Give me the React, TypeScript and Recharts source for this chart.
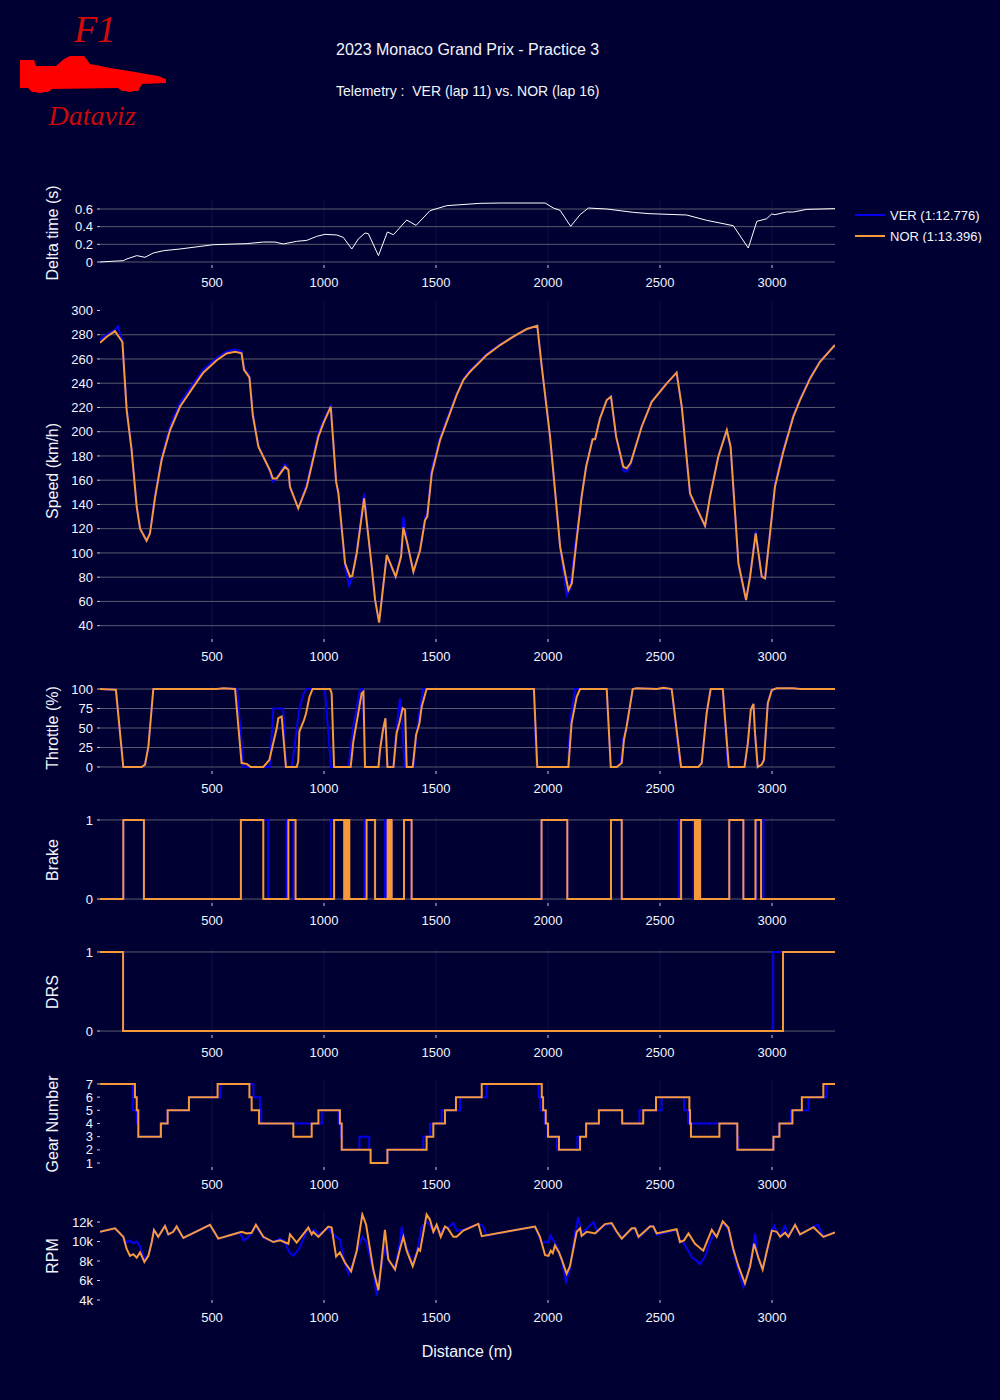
import { CartesianGrid, Line, LineChart, XAxis, YAxis } from "recharts";
import type { ReactNode } from "react";

const BG = "#000033";
const TEXT = "#f2f5fa";
const GRID = "#5a5a6c";
const FAINT = "#10104a";
const VER_COLOR = "#0600ef";
const NOR_COLOR = "#f5993a";
const FONT = '"Liberation Sans", Arial, sans-serif';

type Pt = [number, number];

// distance axis (m)
const X_MAX = 3281;
const X_TICKS = [500, 1000, 1500, 2000, 2500, 3000];

// delta time VER -> NOR (s)
const DELTA: Pt[] = [
  [0, 0], [104, 0.015], [119, 0.034], [164, 0.072], [201, 0.053], [238, 0.102], [283, 0.128],
  [357, 0.147], [506, 0.196], [655, 0.208], [729, 0.226], [781, 0.226], [818, 0.204], [878, 0.234],
  [923, 0.245], [967, 0.29], [1004, 0.313], [1057, 0.306], [1086, 0.279], [1124, 0.147], [1153, 0.26],
  [1183, 0.328], [1198, 0.321], [1243, 0.072], [1283, 0.34], [1310, 0.309], [1369, 0.475], [1411, 0.415],
  [1473, 0.581], [1548, 0.638], [1696, 0.664], [1786, 0.668], [1987, 0.668], [2024, 0.611], [2054, 0.585],
  [2101, 0.404], [2143, 0.536], [2180, 0.611], [2262, 0.6], [2381, 0.562], [2455, 0.547], [2619, 0.532],
  [2708, 0.472], [2827, 0.411], [2894, 0.158], [2932, 0.46], [2976, 0.49], [2998, 0.543], [3013, 0.536],
  [3065, 0.566], [3095, 0.566], [3155, 0.596], [3281, 0.604],
];

// speed (km/h)
const VER_SPEED: Pt[] = [
  [0, 276], [30, 280], [67, 284], [80, 287], [100, 275], [119, 220], [141, 186], [164, 138], [179, 120],
  [208, 110], [223, 117], [246, 148], [275, 179], [312, 204], [357, 224], [417, 240], [461, 251],
  [521, 261], [565, 266], [603, 268], [632, 266], [643, 253], [667, 246], [682, 216], [707, 189],
  [759, 167], [771, 159], [789, 162], [826, 173], [841, 169], [848, 155], [885, 137], [923, 157],
  [975, 199], [997, 209], [1030, 221], [1054, 159], [1064, 148], [1094, 88], [1112, 73], [1126, 80],
  [1146, 102], [1179, 149], [1213, 88], [1228, 61], [1246, 43], [1280, 98], [1320, 80], [1344, 98],
  [1354, 130], [1372, 108], [1399, 84], [1429, 103], [1451, 130], [1461, 133], [1481, 170], [1518, 195],
  [1562, 217], [1592, 231], [1622, 243], [1652, 251], [1666, 253], [1726, 264], [1786, 272], [1845, 278],
  [1905, 284.7], [1952, 287.4], [1972, 253.6], [2009, 195.9], [2031, 151.9], [2054, 105], [2083, 65],
  [2098, 70], [2120, 105], [2150, 147], [2170, 172], [2199, 194], [2210, 194], [2232, 211], [2262, 226],
  [2281, 229], [2304, 196], [2336, 168], [2351, 167], [2369, 173], [2418, 204], [2463, 225], [2530, 240],
  [2574, 248.7], [2597, 220], [2634, 148], [2664, 136], [2701, 122], [2723, 146], [2760, 180], [2798, 201],
  [2815, 187], [2835, 132], [2850, 90], [2884, 61], [2902, 82], [2927, 118], [2954, 80], [2969, 79],
  [2991, 117], [3013, 157], [3048, 184], [3095, 214], [3125, 227], [3170, 245], [3214, 258], [3281, 271.5],
];
const NOR_SPEED: Pt[] = [
  [0, 273.4], [30, 278.4], [67, 283], [100, 274], [119, 218], [141, 185], [164, 138], [179, 120],
  [208, 110], [223, 116], [246, 146], [275, 176.6], [312, 201], [357, 220.6], [417, 237], [461, 248.7],
  [521, 259], [565, 264.6], [603, 266], [632, 264.6], [643, 251], [667, 244.8], [682, 213.7], [707, 187.6],
  [759, 168], [771, 161.5], [789, 161.5], [826, 171], [841, 168.4], [848, 154.6], [885, 136.8], [923, 154.6],
  [975, 196], [997, 206.9], [1030, 220.6], [1054, 158.8], [1064, 149.7], [1094, 91.4], [1116, 80.4],
  [1126, 81], [1146, 99.7], [1179, 145], [1213, 88.6], [1228, 61.2], [1246, 42.5], [1280, 98.3],
  [1320, 80.4], [1344, 97], [1354, 121], [1372, 107.9], [1399, 84.5], [1429, 102.4], [1451, 127.1],
  [1461, 130], [1481, 165.6], [1518, 193.1], [1562, 215.1], [1592, 230.2], [1622, 242.6], [1652, 249.5],
  [1666, 252.2], [1726, 263.2], [1786, 271.5], [1845, 278.4], [1905, 284.7], [1952, 287.4], [1972, 253.6],
  [2009, 195.9], [2031, 151.9], [2054, 105.2], [2076, 83.2], [2091, 69.4], [2106, 74.9], [2125, 106.5],
  [2150, 146.4], [2170, 171.1], [2199, 193.7], [2210, 193.7], [2232, 211], [2262, 226.1], [2281, 228.9],
  [2304, 195.9], [2336, 171.1], [2351, 169.8], [2369, 174.4], [2418, 204.1], [2463, 224.7], [2530, 239.9],
  [2574, 248.7], [2597, 220.6], [2634, 149.1], [2664, 136.8], [2701, 122.2], [2723, 146.4], [2760, 179.4],
  [2798, 201.4], [2815, 187.6], [2835, 132.6], [2850, 91.4], [2884, 61.2], [2902, 80.4], [2927, 116.2],
  [2954, 80.4], [2969, 79], [2991, 116.2], [3013, 154.6], [3048, 182.1], [3095, 212.4], [3125, 226.1],
  [3170, 244], [3214, 257.7], [3281, 271.5],
];

// throttle (%)
const VER_THROTTLE: Pt[] = [
  [0, 100], [71, 99], [104, 0], [186, 0], [201, 3], [216, 26], [238, 100], [521, 100], [551, 101],
  [612, 100], [640, 0], [758, 0], [774, 75], [818, 75], [830, 0], [856, 0], [870, 30], [890, 75],
  [910, 95], [923, 100], [1004, 100], [1031, 0], [1109, 0], [1130, 50], [1161, 100], [1173, 100],
  [1183, 0], [1243, 0], [1250, 22], [1262, 45], [1274, 62], [1283, 0], [1310, 0], [1322, 45], [1339, 88],
  [1350, 50], [1360, 0], [1399, 0], [1420, 60], [1443, 100], [1937, 100], [1948, 0], [2088, 0],
  [2100, 60], [2121, 100], [2262, 100], [2280, 0], [2307, 0], [2325, 5], [2335, 35], [2351, 52],
  [2378, 100], [2396, 101], [2485, 100], [2515, 101], [2552, 100], [2590, 0], [2671, 0], [2686, 5],
  [2708, 69], [2726, 100], [2780, 100], [2803, 0], [2877, 0], [2892, 30], [2905, 73], [2917, 81],
  [2924, 43], [2936, 0], [2954, 3], [2964, 9], [2981, 82], [2999, 99], [3021, 101], [3095, 101],
  [3125, 100], [3281, 100],
];
const NOR_THROTTLE: Pt[] = [
  [0, 100], [71, 99], [104, 0], [186, 0], [201, 3], [216, 26], [238, 100], [521, 100], [551, 101],
  [603, 100], [632, 5], [655, 4], [673, 0], [729, 0], [756, 9], [789, 50], [796, 62.6], [811, 64.7],
  [830, 0], [878, 0], [885, 7], [890, 45.5], [911, 60.4], [920, 69], [935, 90], [949, 100], [1027, 100],
  [1034, 94.5], [1045, 0], [1119, 0], [1131, 32.8], [1153, 69], [1168, 94.5], [1176, 96.6], [1183, 0],
  [1243, 0], [1250, 22], [1262, 45.5], [1274, 62.6], [1283, 0], [1310, 0], [1324, 43.4], [1336, 56],
  [1351, 75.3], [1362, 73], [1369, 0], [1396, 0], [1411, 41], [1426, 56], [1436, 77.4], [1458, 100],
  [1937, 100], [1952, 0], [2091, 0], [2105, 56], [2128, 90], [2143, 100], [2262, 100], [2280, 0],
  [2307, 0], [2329, 5], [2339, 35], [2351, 52], [2378, 100], [2396, 101], [2485, 100], [2515, 101.7],
  [2552, 100], [2594, 0], [2671, 0], [2686, 5], [2708, 69], [2726, 100], [2780, 100], [2807, 0],
  [2877, 0], [2892, 30.6], [2905, 73], [2917, 81], [2924, 43.4], [2936, 0], [2954, 3], [2964, 9.4],
  [2981, 81.7], [2999, 98.7], [3021, 101], [3095, 101], [3125, 100], [3281, 100],
];

// brake on/off (value holds until next distance)
const VER_BRAKE: Pt[] = [
  [0, 0], [104, 1], [196, 0], [629, 1], [751, 0], [833, 1], [863, 0], [1031, 1], [1091, 0], [1093, 1],
  [1110, 0], [1180, 1], [1225, 0], [1272, 1], [1280, 0], [1284, 1], [1302, 0], [1357, 1], [1391, 0],
  [1971, 1], [2086, 0], [2281, 1], [2329, 0], [2585, 1], [2650, 0], [2809, 1], [2872, 0], [2930, 1],
  [2962, 0], [3281, 0],
];
const NOR_BRAKE: Pt[] = [
  [0, 0], [104, 1], [196, 0], [629, 1], [729, 0], [841, 1], [873, 0], [1045, 1], [1090, 0], [1093, 1],
  [1100, 0], [1104, 1], [1113, 0], [1190, 1], [1228, 0], [1284, 1], [1290, 0], [1293, 1], [1302, 0],
  [1357, 1], [1391, 0], [1971, 1], [2086, 0], [2281, 1], [2329, 0], [2594, 1], [2656, 0], [2661, 1],
  [2666, 0], [2670, 1], [2679, 0], [2809, 1], [2872, 0], [2926, 1], [2951, 0], [3281, 0],
];

// DRS open/closed
const VER_DRS: Pt[] = [[0, 1], [103, 0], [3005, 1], [3281, 1]];
const NOR_DRS: Pt[] = [[0, 1], [103, 0], [3049, 1], [3281, 1]];

// gear (value holds until next distance)
const VER_GEAR: Pt[] = [
  [0, 7], [146, 5], [164, 4], [171, 3], [268, 4], [302, 5], [397, 6], [536, 7], [685, 6], [714, 5],
  [720, 4], [990, 5], [1065, 4], [1075, 3], [1082, 2], [1158, 3], [1202, 2], [1208, 1], [1283, 2],
  [1443, 3], [1473, 4], [1525, 5], [1607, 6], [1726, 7], [1958, 6], [1965, 5], [1985, 4], [1998, 3],
  [2040, 2], [2131, 3], [2170, 4], [2227, 5], [2331, 4], [2408, 5], [2507, 6], [2607, 5], [2625, 4],
  [2842, 3], [2850, 2], [3006, 3], [3030, 4], [3085, 5], [3163, 6], [3244, 7], [3281, 7],
];
const NOR_GEAR: Pt[] = [
  [0, 7], [156, 6], [164, 5], [171, 3], [272, 4], [302, 5], [397, 6], [525, 7], [667, 6], [677, 5],
  [710, 4], [863, 3], [945, 4], [975, 5], [1071, 4], [1079, 2], [1208, 1], [1283, 2], [1458, 3],
  [1488, 4], [1540, 5], [1589, 6], [1704, 7], [1972, 6], [1978, 5], [1990, 4], [2000, 3], [2049, 2],
  [2143, 3], [2170, 4], [2227, 5], [2331, 4], [2425, 5], [2482, 6], [2631, 5], [2634, 4], [2638, 3],
  [2765, 4], [2845, 2], [3006, 3], [3033, 4], [3091, 5], [3133, 6], [3229, 7], [3281, 7],
];

// engine speed (rpm)
const VER_RPM: Pt[] = [
  [0, 11000], [67, 11360], [104, 10480], [119, 9900], [134, 10100], [149, 9800], [164, 10000],
  [179, 9500], [198, 8200], [216, 8600], [231, 9950], [241, 11190], [260, 10480], [290, 11600],
  [305, 10730], [327, 11000], [342, 11540], [372, 10370], [491, 11720], [528, 10300], [580, 10650],
  [625, 10900], [640, 10100], [660, 10400], [677, 10900], [696, 11600], [729, 10400], [774, 9950],
  [804, 10300], [820, 10100], [845, 8900], [863, 8530], [890, 9300], [930, 11430], [945, 10900],
  [960, 11200], [975, 10700], [1019, 11400], [1034, 10900], [1054, 10480], [1071, 10200], [1090, 8000],
  [1109, 6700], [1130, 7800], [1146, 9000], [1171, 10480], [1188, 10000], [1220, 7000], [1235, 4460],
  [1250, 6500], [1272, 9500], [1290, 8000], [1317, 7300], [1339, 10000], [1347, 11540], [1360, 10000],
  [1375, 9000], [1396, 7600], [1421, 9600], [1436, 11540], [1458, 12000], [1473, 11700], [1488, 11000],
  [1503, 11500], [1521, 10900], [1540, 11540], [1552, 11360], [1577, 11900], [1592, 11100],
  [1622, 11200], [1689, 11820], [1710, 11600], [1726, 10600], [1830, 11080], [1942, 11540],
  [1960, 10500], [1975, 9800], [1990, 10000], [2002, 9900], [2012, 10600], [2021, 10200], [2031, 9900],
  [2049, 9000], [2061, 8000], [2080, 5880], [2098, 7200], [2120, 10800], [2135, 12500], [2150, 10900],
  [2173, 11300], [2203, 12000], [2220, 11000], [2254, 11700], [2284, 11800], [2307, 11000],
  [2329, 10400], [2374, 11300], [2389, 11300], [2404, 10400], [2433, 11000], [2455, 11600],
  [2470, 11600], [2485, 10700], [2574, 11200], [2589, 10100], [2607, 9800], [2627, 9000], [2645, 8300],
  [2665, 8000], [2677, 7650], [2700, 8400], [2720, 9800], [2740, 10800], [2753, 10600], [2780, 12000],
  [2805, 11200], [2827, 9000], [2850, 7000], [2872, 5350], [2890, 6500], [2905, 8000], [2924, 10830],
  [2939, 8200], [2958, 7200], [2979, 9200], [2999, 11100], [3010, 11600], [3021, 11000], [3036, 10600],
  [3058, 11600], [3073, 10500], [3103, 11700], [3125, 10700], [3185, 11500], [3205, 11720],
  [3229, 10500], [3278, 10940],
];
const NOR_RPM: Pt[] = [
  [0, 11000], [67, 11360], [104, 10480], [119, 9240], [134, 8530], [149, 8700], [164, 8350],
  [179, 8880], [198, 7900], [216, 8530], [231, 9950], [241, 11190], [260, 10480], [290, 11600],
  [305, 10730], [327, 11000], [342, 11540], [372, 10370], [491, 11720], [528, 10300], [580, 10650],
  [632, 11000], [655, 10830], [677, 10900], [696, 11720], [729, 10480], [774, 9950], [804, 10120],
  [841, 9770], [848, 10730], [878, 9880], [930, 11430], [945, 10730], [952, 11000], [975, 10480],
  [1019, 11540], [1034, 11430], [1054, 8460], [1071, 8880], [1094, 7820], [1121, 6940], [1146, 9060],
  [1171, 12780], [1188, 11720], [1220, 7120], [1243, 5000], [1272, 11190], [1287, 8180], [1317, 7120],
  [1339, 9240], [1354, 10480], [1369, 9060], [1396, 7470], [1421, 9240], [1429, 9060], [1458, 12780],
  [1473, 12250], [1488, 11000], [1503, 11720], [1521, 10480], [1540, 11540], [1552, 11360],
  [1577, 10480], [1592, 10480], [1622, 11120], [1689, 11820], [1704, 10550], [1830, 11080],
  [1942, 11540], [1964, 10480], [1987, 8600], [2002, 8530], [2012, 9060], [2021, 8810], [2031, 9600],
  [2049, 8880], [2061, 8180], [2083, 6690], [2098, 7470], [2128, 11000], [2143, 11360], [2150, 10580],
  [2173, 11000], [2210, 10830], [2254, 11790], [2284, 11890], [2307, 11000], [2329, 10300],
  [2374, 11360], [2389, 11360], [2404, 10480], [2433, 11080], [2455, 11540], [2470, 11540],
  [2485, 10830], [2574, 11260], [2589, 9950], [2607, 10120], [2627, 10830], [2656, 9770], [2693, 9060],
  [2731, 11190], [2753, 10480], [2780, 12070], [2805, 11430], [2827, 9240], [2850, 7470], [2879, 5700],
  [2902, 7470], [2920, 9770], [2939, 8350], [2958, 7120], [2979, 9240], [2999, 11120], [3021, 11000],
  [3036, 10480], [3058, 10900], [3073, 10480], [3103, 11720], [3125, 10730], [3185, 11470],
  [3229, 10480], [3281, 10940],
];

const DRIVERS = ["VER (1:12.776)", "NOR (1:13.396)"];

const toRows = (pts: Pt[]) => pts.map(([d, v]) => ({ d, v }));

if (typeof document !== "undefined") {
  document.body.style.margin = "0";
  document.body.style.background = BG;
}

const PLOT_LEFT = 100;
const PLOT_RIGHT = 835;
const Y_W = 60;
const M_TOP = 6;
const X_H = 34;

function Panel({
  top,
  bottom,
  domain,
  ticks,
  grid,
  title,
  format,
  children,
}: {
  top: number;
  bottom: number;
  domain: [number, number];
  ticks: number[];
  grid?: number[];
  title: string;
  format?: (v: number) => string;
  children: ReactNode;
}) {
  const plotH = bottom - top;
  return (
    <>
      <div style={{ position: "absolute", left: 0, top: top - M_TOP }}>
        <LineChart
          width={1000}
          height={M_TOP + plotH + X_H}
          margin={{ top: M_TOP, right: 1000 - PLOT_RIGHT, bottom: 0, left: PLOT_LEFT - Y_W }}
        >
          <CartesianGrid horizontal={false} verticalValues={X_TICKS} stroke={FAINT} />
          {grid && <CartesianGrid vertical={false} horizontalValues={grid} stroke={GRID} />}
          <XAxis
            type="number"
            dataKey="d"
            domain={[0, X_MAX]}
            ticks={X_TICKS}
            allowDataOverflow
            axisLine={false}
            tickSize={3}
            tickMargin={10}
            height={X_H}
            tickLine={{ stroke: "#c8cad8" }}
            tick={{ fill: TEXT, fontSize: 13, fontFamily: FONT }}
          />
          <YAxis
            type="number"
            domain={domain}
            ticks={ticks}
            interval={0}
            allowDataOverflow
            axisLine={false}
            width={Y_W}
            tickSize={3}
            tickMargin={4}
            tickLine={{ stroke: "#c8cad8" }}
            tickFormatter={format}
            tick={{ fill: TEXT, fontSize: 13, fontFamily: FONT }}
          />
          {children}
        </LineChart>
      </div>
      <div
        style={{
          position: "absolute",
          left: 53,
          top: (top + bottom) / 2,
          transform: "translate(-50%, -50%) rotate(-90deg)",
          whiteSpace: "nowrap",
          fontSize: 16,
        }}
      >
        {title}
      </div>
    </>
  );
}

function pair(ver: Pt[], nor: Pt[], step = false) {
  const type = step ? "stepAfter" : "linear";
  return [
    <Line key="ver" data={toRows(ver)} dataKey="v" type={type} stroke={VER_COLOR} strokeWidth={2} dot={false} isAnimationActive={false} />,
    <Line key="nor" data={toRows(nor)} dataKey="v" type={type} stroke={NOR_COLOR} strokeWidth={2} dot={false} isAnimationActive={false} />,
  ];
}

function Logo() {
  return (
    <svg width={190} height={140} style={{ position: "absolute", left: 0, top: 0 }}>
      <text x={95} y={42} textAnchor="middle" fontFamily='"Liberation Serif", serif' fontStyle="italic" fontSize={38} fill="#d20a0a">
        F1
      </text>
      <path
        d="M20,60 L34,60 L36,66 L56,66 L64,59 L70,56 L84,56 L90,64 L110,68 L135,72 L158,76 L166,79 L166,83 L142,84 L138,91 L122,91 L118,88 L52,89 L48,92 L32,92 L28,88 L20,88 Z"
        fill="#ff0000"
      />
      <circle cx={40} cy={85} r={8} fill="#ff0000" />
      <circle cx={130} cy={84} r={8} fill="#ff0000" />
      <text x={92} y={125} textAnchor="middle" fontFamily='"Liberation Serif", serif' fontStyle="italic" fontSize={28} fill="#c80a0a">
        Dataviz
      </text>
    </svg>
  );
}

export default function App() {
  return (
    <div style={{ position: "relative", width: 1000, height: 1400, background: BG, color: TEXT, fontFamily: FONT, overflow: "hidden" }}>
      <Logo />
      <div style={{ position: "absolute", left: 336, top: 40, fontSize: 16, lineHeight: "20px" }}>
        2023 Monaco Grand Prix - Practice 3
      </div>
      <div style={{ position: "absolute", left: 336, top: 82, fontSize: 14, lineHeight: "18px", whiteSpace: "pre" }}>
        {"Telemetry :  VER (lap 11) vs. NOR (lap 16)"}
      </div>

      <Panel top={200} bottom={265} domain={[-0.034, 0.702]} ticks={[0, 0.2, 0.4, 0.6]} grid={[0, 0.2, 0.4, 0.6]} title="Delta time (s)">
        <Line data={toRows(DELTA)} dataKey="v" type="linear" stroke="#ffffff" strokeWidth={1} dot={false} isAnimationActive={false} />
      </Panel>
      <Panel
        top={302}
        bottom={639}
        domain={[29, 307]}
        ticks={[40, 60, 80, 100, 120, 140, 160, 180, 200, 220, 240, 260, 280, 300]}
        grid={[40, 60, 80, 100, 120, 140, 160, 180, 200, 220, 240, 260, 280]}
        title="Speed (km/h)"
      >
        {pair(VER_SPEED, NOR_SPEED)}
      </Panel>
      <Panel top={685} bottom={771} domain={[-5.13, 105.13]} ticks={[0, 25, 50, 75, 100]} grid={[0, 25, 50, 75, 100]} title="Throttle (%)">
        {pair(VER_THROTTLE, NOR_THROTTLE)}
      </Panel>
      <Panel top={816} bottom={903} domain={[-0.05, 1.05]} ticks={[0, 1]} grid={[0, 1]} title="Brake">
        {pair(VER_BRAKE, NOR_BRAKE, true)}
      </Panel>
      <Panel top={948} bottom={1035} domain={[-0.05, 1.05]} ticks={[0, 1]} grid={[0, 1]} title="DRS">
        {pair(VER_DRS, NOR_DRS, true)}
      </Panel>
      <Panel top={1080} bottom={1167} domain={[0.7, 7.3]} ticks={[1, 2, 3, 4, 5, 6, 7]} title="Gear Number">
        {pair(VER_GEAR, NOR_GEAR, true)}
      </Panel>
      <Panel
        top={1212}
        bottom={1300}
        domain={[4000, 13030]}
        ticks={[4000, 6000, 8000, 10000, 12000]}
        format={(v) => `${v / 1000}k`}
        title="RPM"
      >
        {pair(VER_RPM, NOR_RPM)}
      </Panel>

      <div style={{ position: "absolute", left: 467, top: 1352, transform: "translate(-50%, -50%)", fontSize: 16 }}>
        Distance (m)
      </div>

      <svg width={150} height={40} style={{ position: "absolute", left: 850, top: 203 }}>
        <line x1={5} x2={35} y1={12} y2={12} stroke={VER_COLOR} strokeWidth={2} />
        <line x1={5} x2={35} y1={33} y2={33} stroke={NOR_COLOR} strokeWidth={2} />
        <text x={40} y={16.5} fontSize={13} fill={TEXT} fontFamily={FONT}>
          {DRIVERS[0]}
        </text>
        <text x={40} y={37.5} fontSize={13} fill={TEXT} fontFamily={FONT}>
          {DRIVERS[1]}
        </text>
      </svg>
    </div>
  );
}
